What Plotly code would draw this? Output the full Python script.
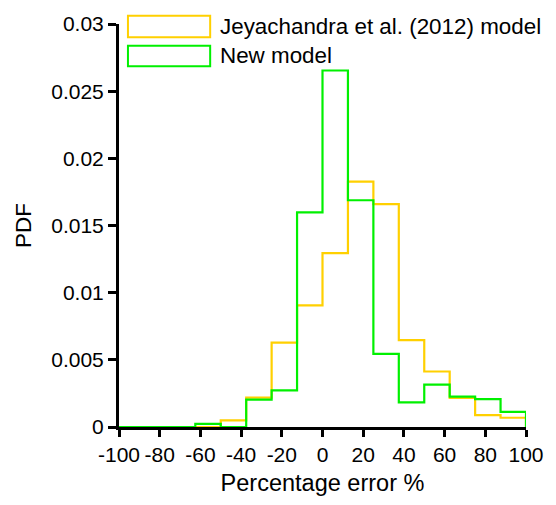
import plotly.graph_objects as go

# Histogram bin edges (percentage error) and PDF values for each model
bin_edges = [-100, -87.5, -75, -62.5, -50, -37.5, -25, -12.5, 0,
             12.5, 25, 37.5, 50, 62.5, 75, 87.5, 100]
jeyachandra_pdf = [0, 0, 0, 0, 0.00049, 0.00219, 0.00628, 0.00906,
                   0.01295, 0.01826, 0.01659, 0.00647, 0.00413, 0.00216,
                   0.00089, 0.00069]
new_model_pdf = [0, 0, 0, 0.00024, 0, 0.00204, 0.00273, 0.01597,
                 0.02654, 0.01688, 0.00544, 0.00184, 0.00315, 0.00226,
                 0.00207, 0.00113]

series_names = ["Jeyachandra et al. (2012) model", "New model"]
series_colors = ["#FFD000", "#00F000"]
x_ticks = list(range(-100, 101, 20))
x_tick_text = [str(v) for v in x_ticks]  # plain hyphen minus
y_ticks = [0, 0.005, 0.01, 0.015, 0.02, 0.025, 0.03]
y_tick_text = ["0", "0.005", "0.01", "0.015", "0.02", "0.025", "0.03"]


def step_xy(edges, vals):
    # step outline: horizontal across each bin, dropping to zero at the end
    xs = list(edges) + [edges[-1]]
    ys = list(vals) + [vals[-1], 0]
    return xs, ys


fig = go.Figure()
for vals, color in zip([jeyachandra_pdf, new_model_pdf], series_colors):
    xs, ys = step_xy(bin_edges, vals)
    fig.add_trace(go.Scatter(
        x=xs, y=ys, mode="lines", line=dict(shape="hv", color=color, width=2.2),
        showlegend=False, hoverinfo="skip"))

# Legend drawn as outlined boxes with labels
legend_rows = [(1.0205, 0.967, 0.994), (0.946, 0.895, 0.921)]
for (y_top, y_bot, y_txt), name, color in zip(legend_rows, series_names, series_colors):
    fig.add_shape(type="rect", xref="paper", yref="paper",
                  x0=0.022, x1=0.224, y0=y_bot, y1=y_top,
                  line=dict(color=color, width=2), fillcolor="rgba(0,0,0,0)")
    fig.add_annotation(xref="paper", yref="paper", x=0.244, y=y_txt,
                       text=name, showarrow=False, xanchor="left", yanchor="middle",
                       font=dict(size=22.4, color="black"))

axis_font = dict(family="Liberation Sans, Arial, sans-serif", size=21, color="black")
fig.update_layout(
    width=556, height=505,
    margin=dict(l=119, r=26, t=24, b=76),
    paper_bgcolor="white", plot_bgcolor="white",
    font=dict(family="Liberation Sans, Arial, sans-serif", color="black"),
    xaxis=dict(range=[-100, 100], tickvals=x_ticks, ticktext=x_tick_text,
               ticks="outside", ticklen=7, tickwidth=3, tickcolor="black",
               showline=True, linecolor="black", linewidth=3, showgrid=False,
               zeroline=False, tickfont=axis_font,
               title=dict(text="Percentage error %", font=dict(size=23.5), standoff=10)),
    yaxis=dict(range=[0, 0.03], tickvals=y_ticks, ticktext=y_tick_text,
               ticks="outside", ticklen=8, tickwidth=3, tickcolor="black",
               showline=True, linecolor="black", linewidth=3, showgrid=False,
               zeroline=False, tickfont=axis_font,
               title=dict(text="PDF", font=dict(size=22.5), standoff=14)),
)

fig.write_html("out.html")
